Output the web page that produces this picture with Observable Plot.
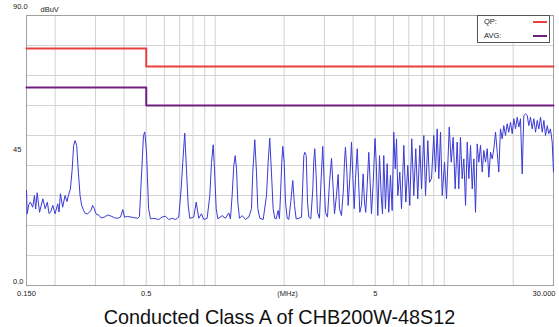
<!DOCTYPE html>
<html><head><meta charset="utf-8">
<script src="https://cdn.jsdelivr.net/npm/d3@7"></script>
<script src="https://cdn.jsdelivr.net/npm/@observablehq/plot@0.6"></script>
<style>
body{margin:0;background:#fff;}
#wrap{position:relative;width:559px;height:327px;font-family:"Liberation Sans",Arial,sans-serif;background:#fff;overflow:hidden;}
#title{position:absolute;left:0;top:307px;width:559px;text-align:center;font-size:19.8px;line-height:20px;color:#111;white-space:nowrap;}
#legend{position:absolute;left:477px;top:15px;width:71px;height:26px;border:1px solid #555;background:#fff;font-size:7.5px;color:#222;}
#legend .lab{position:absolute;left:6px;line-height:9px;}
#legend .sw{position:absolute;left:55px;width:14px;height:0;border-top:2px solid;}
</style></head><body>
<div id="wrap"><div id="chart"></div><div id="legend"></div><div id="title">Conducted Class A of CHB200W-48S12</div></div>
<script>
// ---- data ----
const limitFreqs = [0.15, 0.5, 30];
const qpLimit = [79, 73, 73];
const avgLimit = [66, 60, 60];
const gridFreqs = [0.2,0.3,0.4,0.5,0.6,0.7,0.8,0.9,1,2,3,4,5,6,7,8,9,10,20];
const gridLevels = [10,20,30,40,50,60,70,80];
const xTickValues = [0.15, 0.5, 2.07, 5, 30];
const xTickLabels = ["0.150", "0.5", "(MHz)", "5", "30.000"];
const yTickValues = [90, 45, 0];
const yTickLabels = ["90.0", "45", "0.0"];
const yUnit = "dBuV";
const legendNames = ["QP:", "AVG:"];
const legendColors = ["#e8413f", "#6e1f80"];
const traceColor = "#3a3ad6";
// measured emission [MHz, dBuV]
const emission = [
[0.150,31.7],[0.151,23.9],[0.1535,27.0],[0.156,27.8],[0.1597,26.1],[0.1625,30.0],[0.1645,25.5],[0.167,30.9],[0.171,24.4],[0.1768,28.9],[0.181,25.6],[0.185,27.8],[0.188,24.0],[0.191,24.4],[0.1954,26.7],[0.200,23.9],[0.2053,27.2],[0.208,24.5],[0.211,30.6],[0.2158,26.1],[0.221,30.0],[0.2255,28.0],[0.2285,30.0],[0.2332,32.2],[0.2372,38.3],[0.241,46.7],[0.2444,48.3],[0.2484,46.7],[0.2527,37.8],[0.257,30.0],[0.2612,26.7],[0.2665,25.0],[0.271,24.0],[0.2773,23.9],[0.2869,25.0],[0.2916,26.7],[0.2966,25.6],[0.3017,23.9],[0.3119,23.3],[0.318,22.5],[0.3284,22.8],[0.339,23.5],[0.3516,23.1],[0.3634,22.6],[0.3757,22.4],[0.386,22.8],[0.3952,25.3],[0.402,22.8],[0.414,23.0],[0.430,22.8],[0.444,22.6],[0.4593,22.4],[0.467,23.0],[0.4719,30.0],[0.479,40.0],[0.4862,50.0],[0.4926,51.2],[0.501,45.0],[0.506,36.0],[0.512,25.6],[0.5218,22.2],[0.5393,22.4],[0.5668,22.0],[0.5854,22.8],[0.6067,23.1],[0.6272,22.0],[0.649,22.4],[0.6705,22.0],[0.6931,22.8],[0.710,32.2],[0.7216,41.0],[0.7362,50.8],[0.7489,38.9],[0.7623,26.7],[0.7746,22.4],[0.8063,22.8],[0.8261,27.8],[0.8477,22.4],[0.8709,23.9],[0.8913,22.0],[0.9223,22.4],[0.9471,30.0],[0.9635,41.0],[0.9801,46.9],[0.993,38.9],[1.0101,25.6],[1.0265,22.2],[1.0728,23.3],[1.1086,22.4],[1.1459,24.2],[1.1657,22.2],[1.1857,30.0],[1.2058,40.0],[1.2228,43.3],[1.2389,38.9],[1.2552,27.8],[1.2769,22.4],[1.3119,23.3],[1.3562,22.0],[1.4017,22.8],[1.4403,25.6],[1.4592,37.8],[1.4889,48.6],[1.5143,37.8],[1.5348,25.6],[1.566,22.4],[1.6203,22.0],[1.675,30.0],[1.7029,41.1],[1.7304,49.1],[1.7602,37.8],[1.7905,25.6],[1.8196,22.4],[1.8454,22.2],[1.8827,25.0],[1.9074,22.3],[1.9279,30.0],[1.9534,41.1],[1.9731,46.4],[2.001,41.1],[2.0273,27.8],[2.0622,22.4],[2.0958,22.0],[2.1377,27.8],[2.1812,35.0],[2.2188,26.7],[2.2569,22.2],[2.3169,22.4],[2.3817,22.8],[2.4131,34.4],[2.4374,43.3],[2.462,44.4],[2.4969,43.3],[2.5297,27.8],[2.563,22.8],[2.615,22.2],[2.6682,32.2],[2.6933,41.1],[2.7206,45.6],[2.7592,36.7],[2.7956,24.4],[2.8521,22.4],[2.9014,35.6],[2.9485,46.4],[2.9902,34.4],[3.0294,24.4],[3.093,22.8],[3.1557,34.4],[3.2199,42.4],[3.2752,32.2],[3.3183,23.9],[3.3842,30.0],[3.4427,37.0],[3.488,25.6],[3.5587,23.3],[3.631,32.2],[3.6676,41.1],[3.7045,46.1],[3.7534,38.9],[3.8063,26.7],[3.8703,35.6],[3.9373,47.8],[3.989,36.7],[4.0455,25.6],[4.0988,35.6],[4.1697,45.6],[4.2242,35.6],[4.2796,24.4],[4.3517,26.7],[4.4267,37.2],[4.485,27.8],[4.5438,24.4],[4.6086,33.3],[4.6832,44.4],[4.7493,34.4],[4.8119,23.9],[4.8974,34.4],[4.987,49.0],[5.0474,41.1],[5.0982,30.0],[5.1293,23.3],[5.2175,43.3],[5.3072,30.0],[5.3769,23.9],[5.4449,43.3],[5.539,25.6],[5.6343,40.6],[5.7259,24.4],[5.8243,36.7],[5.925,25.0],[6.0206,51.1],[6.1102,38.9],[6.1905,48.9],[6.2723,30.0],[6.3995,37.8],[6.51,25.6],[6.6621,46.7],[6.7971,27.8],[6.9314,40.0],[7.072,26.7],[7.2156,48.9],[7.3622,30.0],[7.5115,45.6],[7.663,28.9],[7.8245,46.7],[7.959,32.2],[8.1448,50.0],[8.2853,30.0],[8.4791,48.3],[8.6225,34.4],[8.7977,35.6],[9.003,50.0],[9.158,37.8],[9.3159,52.2],[9.4674,35.6],[9.635,51.1],[9.801,30.0],[10.03,41.1],[10.234,28.9],[10.515,52.8],[10.728,41.1],[10.942,49.4],[11.164,32.2],[11.39,47.8],[11.576,32.2],[11.774,49.4],[11.977,35.6],[12.18,42.2],[12.389,26.7],[12.603,47.8],[12.807,35.6],[13.028,46.7],[13.253,32.2],[13.47,42.2],[13.696,24.4],[13.932,47.2],[14.158,41.1],[14.403,46.7],[14.652,37.8],[14.889,45.0],[15.143,41.1],[15.41,45.6],[15.661,36.1],[15.93,44.4],[16.203,42.2],[16.467,45.6],[16.75,51.1],[17.039,44.4],[17.304,37.8],[17.602,52.2],[17.905,48.9],[18.196,53.3],[18.509,50.0],[18.827,53.9],[19.133,51.1],[19.478,54.4],[19.81,50.6],[20.131,55.6],[20.479,52.2],[20.83,56.1],[21.169,52.8],[21.53,55.6],[21.902,37.2],[22.256,56.7],[22.64,57.2],[23.03,56.7],[23.4,53.3],[23.805,56.1],[24.21,52.2],[24.62,55.6],[25.044,51.1],[25.477,55.0],[25.889,52.2],[26.336,56.1],[26.79,51.1],[27.23,55.0],[27.68,50.0],[28.18,53.3],[28.61,50.6],[29.1,52.2],[29.61,47.8],[30.0,37.8]
];

// ---- build ----
const qpData = limitFreqs.map((f, i) => ({f, v: qpLimit[i]}));
const avgData = limitFreqs.map((f, i) => ({f, v: avgLimit[i]}));
const xTicks = xTickValues.map((v, i) => ({v, label: xTickLabels[i]}));
const yTicks = yTickValues.map((v, i) => ({v, label: yTickLabels[i]}));
const font = {fill: "#222", fontSize: 7.5};

const chart = Plot.plot({
  width: 559, height: 300,
  marginLeft: 26, marginRight: 6, marginTop: 15, marginBottom: 15,
  x: {type: "log", domain: [0.15, 30], axis: null},
  y: {domain: [0, 90], axis: null},
  style: {background: "white", fontFamily: "'Liberation Sans', Arial, sans-serif", overflow: "visible"},
  marks: [
    Plot.ruleX(gridFreqs, {stroke: "#d2d2d2", strokeWidth: 1}),
    Plot.ruleY(gridLevels, {stroke: "#d2d2d2", strokeWidth: 1}),
    Plot.frame({stroke: "#a0a0a0"}),
    Plot.line(emission, {x: d => d[0], y: d => d[1], stroke: traceColor, strokeWidth: 1}),
    Plot.line(qpData, {x: "f", y: "v", curve: "step-after", stroke: legendColors[0], strokeWidth: 2}),
    Plot.line(avgData, {x: "f", y: "v", curve: "step-after", stroke: legendColors[1], strokeWidth: 2}),
    Plot.text(xTicks.slice(0, 4), {x: "v", text: "label", frameAnchor: "bottom", dy: 10, ...font}),
    Plot.text(xTicks.slice(4), {x: "v", text: "label", frameAnchor: "bottom", dy: 10, dx: 2, textAnchor: "end", ...font}),
    Plot.text(yTicks.slice(0, 1), {y: "v", text: "label", frameAnchor: "left", dx: -13.5, dy: -9, textAnchor: "start", ...font}),
    Plot.text(yTicks.slice(1, 2), {y: "v", text: "label", frameAnchor: "left", dx: -13.5, dy: -1, textAnchor: "start", ...font}),
    Plot.text(yTicks.slice(2), {y: "v", text: "label", frameAnchor: "left", dx: -13.5, dy: -3.5, textAnchor: "start", ...font}),
    Plot.text([yUnit], {text: d => d, frameAnchor: "top-left", dx: 14, dy: -9, textAnchor: "start", ...font})
  ]
});
document.getElementById("chart").appendChild(chart);

const legend = document.getElementById("legend");
legendNames.forEach((name, i) => {
  const lab = document.createElement("div");
  lab.className = "lab"; lab.textContent = name;
  lab.style.top = (1 + i * 13.5) + "px";
  legend.appendChild(lab);
  const sw = document.createElement("div");
  sw.className = "sw"; sw.style.borderTopColor = legendColors[i];
  sw.style.top = (5 + i * 13.5) + "px";
  legend.appendChild(sw);
});
</script>
</body></html>
